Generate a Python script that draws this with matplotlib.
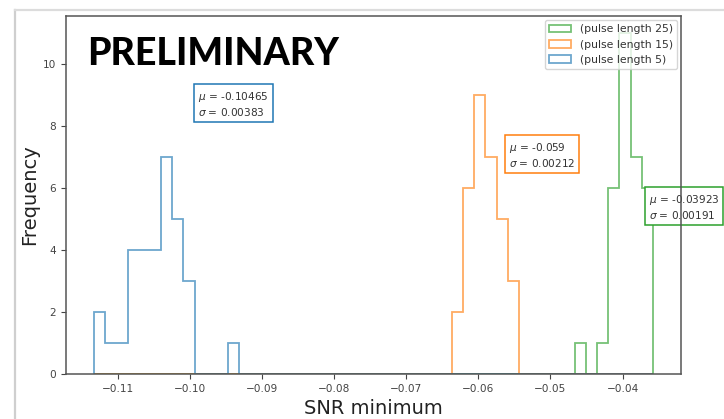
import numpy as np
import matplotlib.pyplot as plt
from matplotlib.lines import Line2D

# 50 common bins over the whole range of SNR minima
bin_lo, bin_hi, n_bins = -0.11338, -0.03576, 50

# counts per bin (only the non-empty stretch of each run, with its first bin index)
start_5 = 0
counts_5 = [2, 1, 1, 4, 4, 4, 7, 5, 3, 0, 0, 0, 1]
start_15 = 32
counts_15 = [2, 6, 9, 7, 5, 3]
start_25 = 43
counts_25 = [1, 0, 1, 6, 11, 7, 6]

labels = ['(pulse length 5)', '(pulse length 15)', '(pulse length 25)']
mus = [-0.10465, -0.059, -0.03923]
sigmas = [0.00383, 0.00212, 0.00191]
stat_y = [8.71, 7.07, 5.40]
colors = ['C0', 'C1', 'C2']

edges = np.linspace(bin_lo, bin_hi, n_bins + 1)
centers = 0.5 * (edges[:-1] + edges[1:])


def full_counts(start, counts):
    w = np.zeros(n_bins)
    w[start:start + len(counts)] = counts
    return w


weights = [full_counts(start_5, counts_5),
           full_counts(start_15, counts_15),
           full_counts(start_25, counts_25)]

fig = plt.figure(figsize=(7.24, 4.19), dpi=100)
ax = fig.add_axes([0.0912, 0.1074, 0.8494, 0.8544])

ax.hist([centers] * 3, bins=edges, weights=weights, histtype='step',
        label=labels, color=colors, linewidth=1.3, alpha=0.65)

for mu, sig, y, c in zip(mus, sigmas, stat_y, colors):
    ax.text(mu + 1.5 * sig, y, '$\\mu$ = %s\n$\\sigma$ = %s' % (mu, sig),
            fontsize=7.6, ha='left', va='center', color='#333333',
            bbox=dict(boxstyle='square,pad=0.38', fc='white', ec=c, lw=1.1),
            clip_on=False)

ax.set_xlabel('SNR minimum', fontsize=14, color='#222222', labelpad=4)
ax.set_ylabel('Frequency', fontsize=14, color='#222222', labelpad=3)
ax.tick_params(labelsize=7.6, colors='#444444')
for s in ax.spines.values():
    s.set_color('#555555')
    s.set_linewidth(1.1)
    s.set_zorder(3.5)

ax.legend(loc='upper right', fontsize=7.8, borderaxespad=0.35, labelcolor='#333333')

fig.text(0.120, 0.845, 'PRELIMINARY', family='Lato', fontsize=27,
         fontweight='black', va='baseline', ha='left')

# card edge along the left and top of the figure
fig.add_artist(Line2D([15 / 724, 15 / 724], [0, 409 / 419],
                      transform=fig.transFigure, color='#cfcfcf', lw=1.6))
fig.add_artist(Line2D([15 / 724, 1], [409 / 419, 409 / 419],
                      transform=fig.transFigure, color='#dcdcdc', lw=1.6))

fig.savefig('out.png', dpi=100)
